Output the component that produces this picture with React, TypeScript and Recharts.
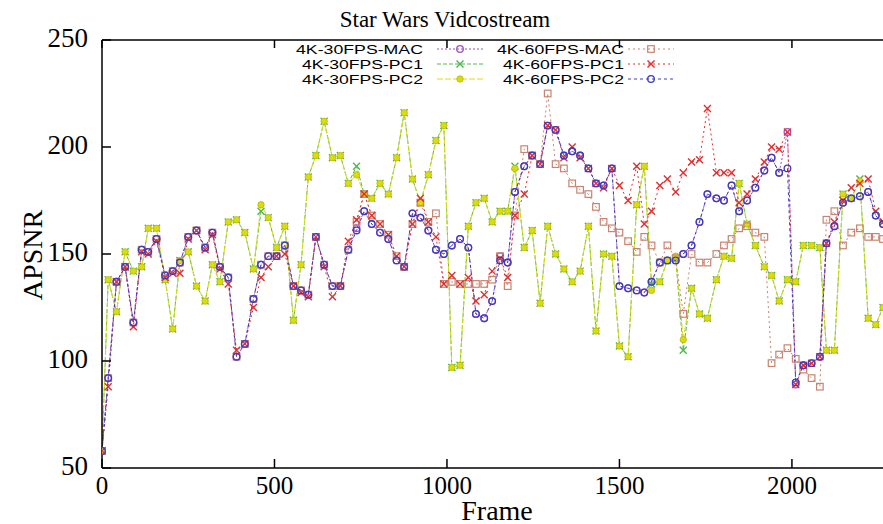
import { LineChart, Line, XAxis, YAxis, ReferenceLine } from "recharts";

// frame numbers of the samples
const frames = [
  0, 18, 42, 67, 91, 115, 134, 158, 183, 205,
  226, 250, 274, 299, 320, 342, 366, 390, 414, 439,
  461, 482, 506, 530, 555, 577, 598, 620, 644, 668,
  691, 714, 738, 760, 782, 806, 830, 854, 876, 900,
  923, 946, 968, 991, 1014, 1038, 1062, 1084, 1108, 1131,
  1154, 1176, 1197, 1224, 1247, 1270, 1292, 1315, 1339, 1363,
  1386, 1410, 1432, 1454, 1478, 1500, 1525, 1550, 1572, 1593,
  1617, 1639, 1663, 1685, 1709, 1732, 1755, 1781, 1803, 1825,
  1847, 1870, 1894, 1920, 1941, 1963, 1987, 2011, 2033, 2057,
  2081, 2100, 2123, 2148, 2172, 2197, 2221, 2243, 2264,
];

const mac30 = [
  58, 92, 137, 144, 118, 152, 151, 157, 140, 142,
  146, 158, 161, 153, 160, 144, 139, 102, 108, 129,
  145, 149, 149, 154, 135, 133, 131, 158, 145, 135,
  135, 152, 162, 170, 164, 160, 157, 147, 144, 169,
  167, 161, 152, 150, 154, 157, 153, 122, 120, 128,
  149, 146, 179, 191, 196, 192, 210, 208, 196, 198,
  196, 190, 183, 182, 190, 135, 134, 133, 132, 137,
  146, 147, 147, 150, 154, 165, 178, 176, 175, 182,
  170, 175, 181, 189, 195, 188, 207, 89, 98, 99,
  102, 155, 163, 174, 176, 177, 179, 168, 164,
];

const pc1_30 = [
  58, 138, 123, 151, 142, 144, 162, 162, 138, 115,
  147, 151, 135, 128, 145, 137, 165, 166, 160, 143,
  170, 167, 153, 163, 119, 145, 186, 196, 212, 195,
  196, 183, 191, 178, 176, 183, 178, 195, 216, 185,
  174, 187, 203, 210, 97, 98, 163, 174, 176, 165,
  170, 170, 191, 153, 161, 127, 163, 150, 143, 137,
  142, 163, 114, 150, 149, 107, 102, 173, 191, 136,
  137, 147, 148, 105, 134, 122, 120, 138, 149, 148,
  183, 164, 154, 144, 140, 128, 138, 137, 154, 154,
  153, 105, 105, 178, 176, 185, 120, 117, 125,
];

const pc2_30 = [
  58, 138, 123, 151, 142, 144, 162, 162, 138, 115,
  147, 151, 135, 128, 145, 137, 165, 166, 160, 143,
  173, 167, 153, 163, 119, 145, 186, 196, 212, 195,
  196, 183, 187, 178, 176, 183, 178, 195, 216, 185,
  174, 187, 203, 210, 97, 98, 163, 174, 176, 165,
  170, 170, 190, 153, 161, 127, 163, 150, 143, 137,
  142, 163, 114, 150, 149, 107, 102, 173, 191, 133,
  137, 147, 149, 110, 134, 122, 120, 138, 149, 148,
  183, 164, 154, 144, 140, 128, 138, 137, 154, 154,
  153, 105, 105, 178, 176, 184, 120, 117, 125,
];

const mac60 = [
  58, 92, 137, 144, 118, 152, 151, 157, 140, 142,
  146, 158, 161, 153, 160, 144, 139, 102, 108, 129,
  145, 149, 149, 154, 135, 133, 131, 158, 145, 135,
  135, 152, 165, 178, 168, 164, 159, 149, 144, 164,
  174, 165, 169, 136, 137, 136, 136, 136, 136, 138,
  149, 135, 168, 199, 196, 192, 225, 192, 190, 183,
  180, 178, 172, 165, 162, 160, 156, 151, 158, 154,
  146, 154, 148, 122, 150, 146, 146, 150, 154, 157,
  162, 163, 160, 158, 99, 103, 106, 101, 96, 92,
  88, 166, 170, 154, 160, 162, 158, 158, 157,
];

const pc1_60 = [
  58, 88, 137, 144, 116, 151, 150, 156, 139, 141,
  141, 157, 161, 152, 159, 143, 136, 105, 108, 125,
  139, 144, 149, 150, 135, 132, 130, 158, 144, 130,
  135, 156, 166, 178, 168, 164, 159, 149, 144, 164,
  176, 165, 158, 136, 140, 136, 139, 128, 131, 142,
  148, 139, 168, 178, 196, 192, 210, 208, 195, 200,
  195, 190, 183, 181, 190, 182, 175, 191, 164, 170,
  182, 185, 179, 188, 193, 194, 218, 188, 188, 188,
  174, 178, 185, 193, 200, 199, 207, 89, 98, 99,
  102, 155, 165, 175, 181, 183, 185, 170, 165,
];

const pc2_60 = [
  58, 92, 137, 144, 118, 152, 151, 157, 140, 142,
  146, 158, 161, 153, 160, 144, 139, 102, 108, 129,
  145, 149, 149, 154, 135, 133, 131, 158, 145, 135,
  135, 152, 161, 170, 164, 160, 157, 147, 144, 169,
  167, 161, 152, 150, 154, 157, 153, 122, 120, 128,
  147, 146, 179, 191, 196, 192, 210, 208, 196, 198,
  196, 190, 183, 182, 190, 135, 134, 133, 132, 137,
  146, 147, 147, 150, 154, 165, 178, 176, 175, 182,
  170, 175, 181, 189, 195, 188, 190, 90, 98, 99,
  102, 155, 163, 174, 176, 177, 179, 168, 164,
];

const xTicks = [0, 500, 1000, 1500, 2000];
const yTicks = [50, 100, 150, 200, 250];

const series = [
  { key: "mac30", name: "4K-30FPS-MAC", values: mac30, color: "#a050c0", marker: "circle", dash: "2 2" },
  { key: "pc1_30", name: "4K-30FPS-PC1", values: pc1_30, color: "#50b850", marker: "x", dash: "4 2" },
  { key: "pc2_30", name: "4K-30FPS-PC2", values: pc2_30, color: "#d8dc10", marker: "dot", dash: "6 2" },
  { key: "mac60", name: "4K-60FPS-MAC", values: mac60, color: "#c88470", marker: "square", dash: "2 3" },
  { key: "pc1_60", name: "4K-60FPS-PC1", values: pc1_60, color: "#e03030", marker: "x", dash: "2 3" },
  { key: "pc2_60", name: "4K-60FPS-PC2", values: pc2_60, color: "#3c3cc0", marker: "circle", dash: "3 3" },
];

const data = frames.map((frame, i) => {
  const row: Record<string, number> = { frame };
  series.forEach((s) => {
    row[s.key] = s.values[i];
  });
  return row;
});

const LEFT = 102;
const TOP = 40;
const BOTTOM = 468;
const serif = "'Liberation Serif', 'Times New Roman', serif";
const sans = "'Liberation Sans', Arial, sans-serif";

function Marker({ kind, color, cx, cy }: any) {
  if (cx == null || cy == null) return null;
  if (kind === "circle")
    return <circle cx={cx} cy={cy} r={3.3} fill="none" stroke={color} strokeWidth={1.3} />;
  if (kind === "dot")
    return <circle cx={cx} cy={cy} r={3.2} fill={color} stroke="#b8b800" strokeWidth={0.8} />;
  if (kind === "square")
    return <rect x={cx - 3.3} y={cy - 3.3} width={6.6} height={6.6} fill="none" stroke={color} strokeWidth={1.2} />;
  return (
    <g stroke={color} strokeWidth={1.4}>
      <line x1={cx - 3.5} y1={cy - 3.5} x2={cx + 3.5} y2={cy + 3.5} />
      <line x1={cx - 3.5} y1={cy + 3.5} x2={cx + 3.5} y2={cy - 3.5} />
    </g>
  );
}

function XTick(props: any) {
  const { x, payload } = props;
  return (
    <g>
      <line x1={x} x2={x} y1={BOTTOM} y2={BOTTOM - 9} stroke="#000" strokeWidth={1.5} />
      <line x1={x} x2={x} y1={TOP} y2={TOP + 8} stroke="#000" strokeWidth={1.5} />
      <text x={x} y={485} textAnchor="middle" dominantBaseline="central" fontFamily={serif} fontSize={25} fill="#000">
        {payload.value}
      </text>
    </g>
  );
}

function YTick(props: any) {
  const { y, payload } = props;
  return (
    <g>
      <line x1={LEFT} x2={LEFT + 9} y1={y} y2={y} stroke="#000" strokeWidth={1.5} />
      <text x={LEFT - 14} y={y - 2} textAnchor="end" dominantBaseline="central" fontFamily={serif} fontSize={27} fill="#000">
        {payload.value}
      </text>
    </g>
  );
}

// legend rows: column 1 = 30FPS, column 2 = 60FPS
const legendRows = [49, 64, 79];

export default function App() {
  return (
    <div style={{ position: "absolute", left: 0, top: 0, width: 883, height: 524, background: "#fff" }}>
      <LineChart width={883} height={524} data={data} margin={{ top: TOP, right: 0, left: 0, bottom: 0 }}>
        <XAxis
          dataKey="frame"
          type="number"
          domain={[0, 2264]}
          ticks={xTicks}
          allowDataOverflow
          height={524 - BOTTOM}
          tickLine={false}
          axisLine={{ stroke: "#000", strokeWidth: 1.5 }}
          tick={(p: any) => <XTick {...p} />}
        />
        <YAxis
          type="number"
          domain={[50, 250]}
          ticks={yTicks}
          allowDataOverflow
          width={LEFT}
          tickLine={false}
          axisLine={{ stroke: "#000", strokeWidth: 1.5 }}
          tick={(p: any) => <YTick {...p} />}
        />
        <ReferenceLine y={250} stroke="#000" strokeWidth={1.5} />
        {series.map((s) => (
          <Line
            key={s.key}
            dataKey={s.key}
            name={s.name}
            type="linear"
            stroke={s.color}
            strokeWidth={1}
            strokeDasharray={s.dash}
            isAnimationActive={false}
            activeDot={false}
            dot={(p: any) => <Marker key={`${s.key}-${p.index}`} kind={s.marker} color={s.color} cx={p.cx} cy={p.cy} />}
          />
        ))}
      </LineChart>
      <svg width={883} height={524} style={{ position: "absolute", left: 0, top: 0, pointerEvents: "none" }}>
        <text x={445} y={19} textAnchor="middle" dominantBaseline="central" fontFamily={serif} fontSize={23} fill="#000">
          Star Wars Vidcostream
        </text>
        <text x={497} y={510} textAnchor="middle" dominantBaseline="central" fontFamily={serif} fontSize={28} fill="#000">
          Frame
        </text>
        <text
          x={32}
          y={255}
          textAnchor="middle"
          dominantBaseline="central"
          fontFamily={serif}
          fontSize={28}
          fill="#000"
          transform="rotate(-90 32 255)"
        >
          APSNR
        </text>
        {series.map((s, i) => {
          const col = i < 3 ? 0 : 1;
          const y = legendRows[i % 3];
          const textRight = col === 0 ? 423 : 624;
          const x1 = col === 0 ? 437 : 628;
          const x2 = col === 0 ? 483 : 674;
          const mx = (x1 + x2) / 2;
          return (
            <g key={s.key}>
              <text
                x={textRight}
                y={y}
                textAnchor="end"
                dominantBaseline="central"
                fontFamily={sans}
                fontSize={13}
                textLength={s.name.endsWith("MAC") ? 127 : 121}
                lengthAdjust="spacingAndGlyphs"
                fill="#000"
              >
                {s.name}
              </text>
              <line x1={x1} x2={x2} y1={y} y2={y} stroke={s.color} strokeWidth={1} strokeDasharray={s.dash} />
              <Marker kind={s.marker} color={s.color} cx={mx} cy={y} />
            </g>
          );
        })}
      </svg>
    </div>
  );
}
